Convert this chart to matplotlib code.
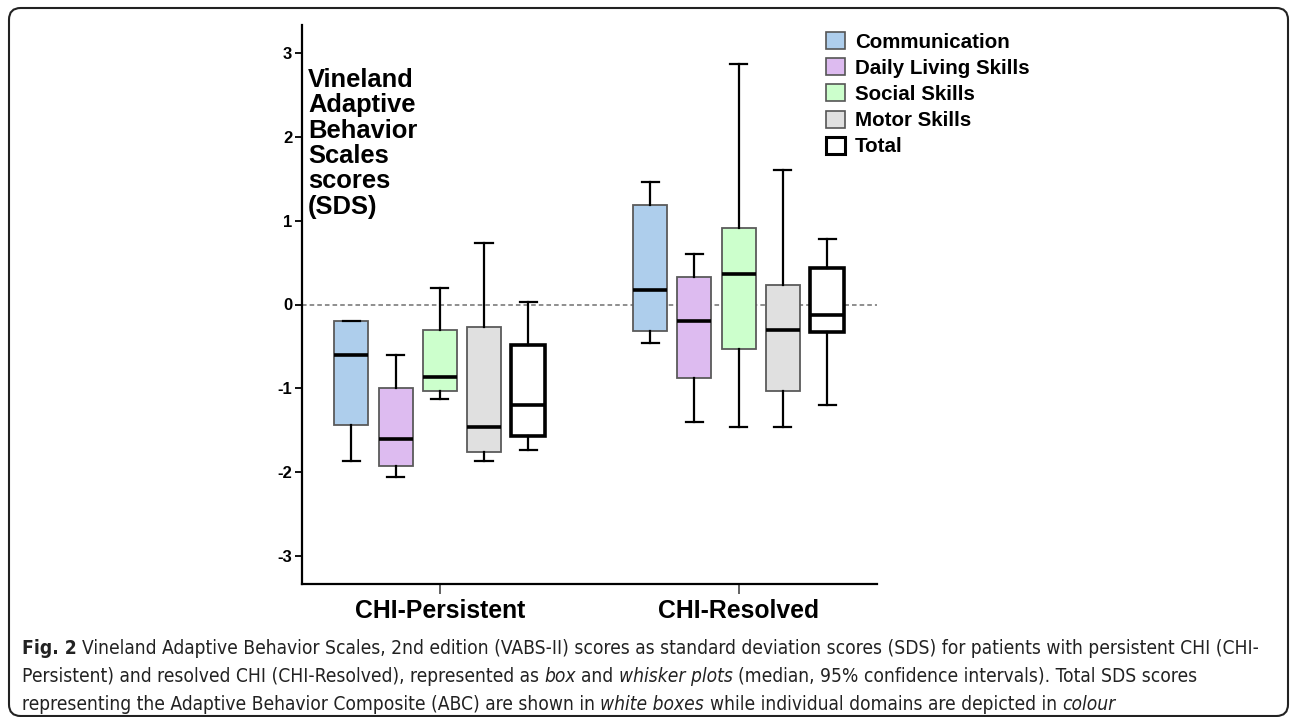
import numpy as np
import matplotlib
matplotlib.use('Agg')
import matplotlib.pyplot as plt
from matplotlib.patches import Patch, FancyBboxPatch
from matplotlib import font_manager

# values (SDS)
groups = ['CHI-Persistent', 'CHI-Resolved']
domains = ['Communication', 'Daily Living Skills', 'Social Skills', 'Motor Skills', 'Total']
colors = ['#AECEEC', '#DDBBF0', '#CCFFCC', '#E0E0E0', '#FFFFFF']

persistent_whislo = [-1.86, -2.06, -1.13, -1.86, -1.73]
persistent_q1 = [-1.43, -1.93, -1.03, -1.76, -1.57]
persistent_med = [-0.60, -1.60, -0.86, -1.46, -1.20]
persistent_q3 = [-0.20, -1.00, -0.30, -0.27, -0.48]
persistent_whishi = [-0.20, -0.60, 0.20, 0.73, 0.03]

resolved_whislo = [-0.46, -1.40, -1.46, -1.46, -1.20]
resolved_q1 = [-0.32, -0.87, -0.53, -1.03, -0.33]
resolved_med = [0.17, -0.20, 0.36, -0.30, -0.12]
resolved_q3 = [1.18, 0.33, 0.91, 0.23, 0.43]
resolved_whishi = [1.46, 0.60, 2.86, 1.60, 0.78]

ytick_vals = [-3, -2, -1, 0, 1, 2, 3]
ytick_labels = ['-3', '-2', '-1', '0', '1', '2', '3']

W, H = 1293, 717
fig = plt.figure(figsize=(W / 100, H / 100), dpi=100)
ax = fig.add_axes([302 / W, 1 - 584 / H, 575 / W, 559 / H])

chart_font = 'Liberation Sans'
fonts = font_manager.fontManager.ttflist
names = {f.name for f in fonts}
cap_stretch = 'normal'
if 'Liberation Sans Narrow' in names:
    cap_font = 'Liberation Sans Narrow'
elif any(f.name == 'DejaVu Sans' and f.stretch == 'condensed' for f in fonts):
    cap_font = 'DejaVu Sans'
    cap_stretch = 'condensed'
else:
    cap_font = 'DejaVu Sans'

step = 0.148
width = 0.114
stats_all = [
    (persistent_whislo, persistent_q1, persistent_med, persistent_q3, persistent_whishi),
    (resolved_whislo, resolved_q1, resolved_med, resolved_q3, resolved_whishi),
]
for g, (lo, q1, med, q3, hi) in enumerate(stats_all):
    for i in range(len(domains)):
        pos = g + 1 + (i - 2) * step
        st = [dict(whislo=lo[i], q1=q1[i], med=med[i], q3=q3[i], whishi=hi[i], fliers=[])]
        total = domains[i] == 'Total'
        ax.bxp(st, positions=[pos], widths=width, capwidths=0.057, patch_artist=True,
               showfliers=False,
               boxprops=dict(facecolor=colors[i], edgecolor='black' if total else '#5a5a5a',
                             linewidth=2.6 if total else 1.3),
               medianprops=dict(color='black', linewidth=2.6),
               whiskerprops=dict(color='black', linewidth=1.6),
               capprops=dict(color='black', linewidth=1.6))

ax.axhline(0, color='#707070', linestyle=(0, (3, 2)), linewidth=1.1, zorder=0)

ax.set_xlim(0.539, 2.463)
ax.set_ylim(-3.33, 3.33)
ax.set_yticks(ytick_vals)
ax.set_yticklabels(ytick_labels, fontfamily=chart_font, fontweight='bold', fontsize=12)
ax.set_xticks([1, 2])
ax.set_xticklabels(groups, fontfamily=chart_font, fontweight='bold', fontsize=17.8)
ax.tick_params(axis='y', length=5, width=1.3, pad=2)
ax.tick_params(axis='x', length=7, width=1.3, color='#555555', pad=4)
for s in ['top', 'right']:
    ax.spines[s].set_visible(False)
for s in ['left', 'bottom']:
    ax.spines[s].set_linewidth(1.6)

ax.text(308 / W, 1 - 68 / H, 'Vineland\nAdaptive\nBehavior\nScales\nscores\n(SDS)',
        transform=fig.transFigure, ha='left', va='top', fontfamily=chart_font,
        fontweight='bold', fontsize=18.4, linespacing=1.07)

handles = [Patch(facecolor=c, edgecolor='black' if d == 'Total' else '#555555',
                 linewidth=2.2 if d == 'Total' else 1.2) for c, d in zip(colors, domains)]
fig.legend(handles, domains, loc='upper left', bbox_to_anchor=(826 / W, 1 - 32 / H),
           frameon=False, borderpad=0, borderaxespad=0, handlelength=0.9, handleheight=0.9,
           handletextpad=0.5, labelspacing=0.32,
           prop=dict(family=chart_font, weight='bold', size=14.8))

# frame round the figure
frame = FancyBboxPatch((9 / W, 1 / H), 1279 / W, 708 / H, transform=fig.transFigure,
                       boxstyle='round,pad=0,rounding_size=0.009', mutation_aspect=W / H,
                       facecolor='none', edgecolor='#222222', linewidth=1.5)
fig.patches.append(frame)

# caption with bold / italic runs
renderer = fig.canvas.get_renderer()
cap_size = 12.4


def text_width(s, style, weight):
    t = fig.text(0, 0, s, fontfamily=cap_font, fontstretch=cap_stretch, fontsize=cap_size,
                 fontstyle=style, fontweight=weight)
    w = t.get_window_extent(renderer).width
    t.remove()
    return w


space_w = text_width('x x', 'normal', 'normal') - text_width('xx', 'normal', 'normal')

caption_lines = [
    [('Fig. 2', 'normal', 'bold'), (' Vineland Adaptive Behavior Scales, 2nd edition (VABS-II) scores as standard deviation scores (SDS) for patients with persistent CHI (CHI-', 'normal', 'normal')],
    [('Persistent) and resolved CHI (CHI-Resolved), represented as', 'normal', 'normal'), (' box', 'italic', 'normal'),
     (' and', 'normal', 'normal'), (' whisker plots', 'italic', 'normal'),
     (' (median, 95% confidence intervals). Total SDS scores', 'normal', 'normal')],
    [('representing the Adaptive Behavior Composite (ABC) are shown in', 'normal', 'normal'), (' white boxes', 'italic', 'normal'),
     (' while individual domains are depicted in', 'normal', 'normal'), (' colour', 'italic', 'normal')],
]

# fit the first line to the width it takes in the figure
full_w = sum(text_width(s, st, wt) for s, st, wt in caption_lines[0]) + space_w
cap_size = cap_size * 1245 / full_w
space_w = text_width('x x', 'normal', 'normal') - text_width('xx', 'normal', 'normal')

line_y = [654, 682, 710]
for runs, yp in zip(caption_lines, line_y):
    x = 22.0
    for s, style, weight in runs:
        if s.startswith(' '):
            x += space_w
            s = s[1:]
        t = fig.text(x / W, 1 - yp / H, s, fontfamily=cap_font, fontstretch=cap_stretch,
                     fontsize=cap_size, fontstyle=style, fontweight=weight,
                     color='#222222', va='baseline')
        x += t.get_window_extent(renderer).width

fig.savefig('out.png', dpi=100)
